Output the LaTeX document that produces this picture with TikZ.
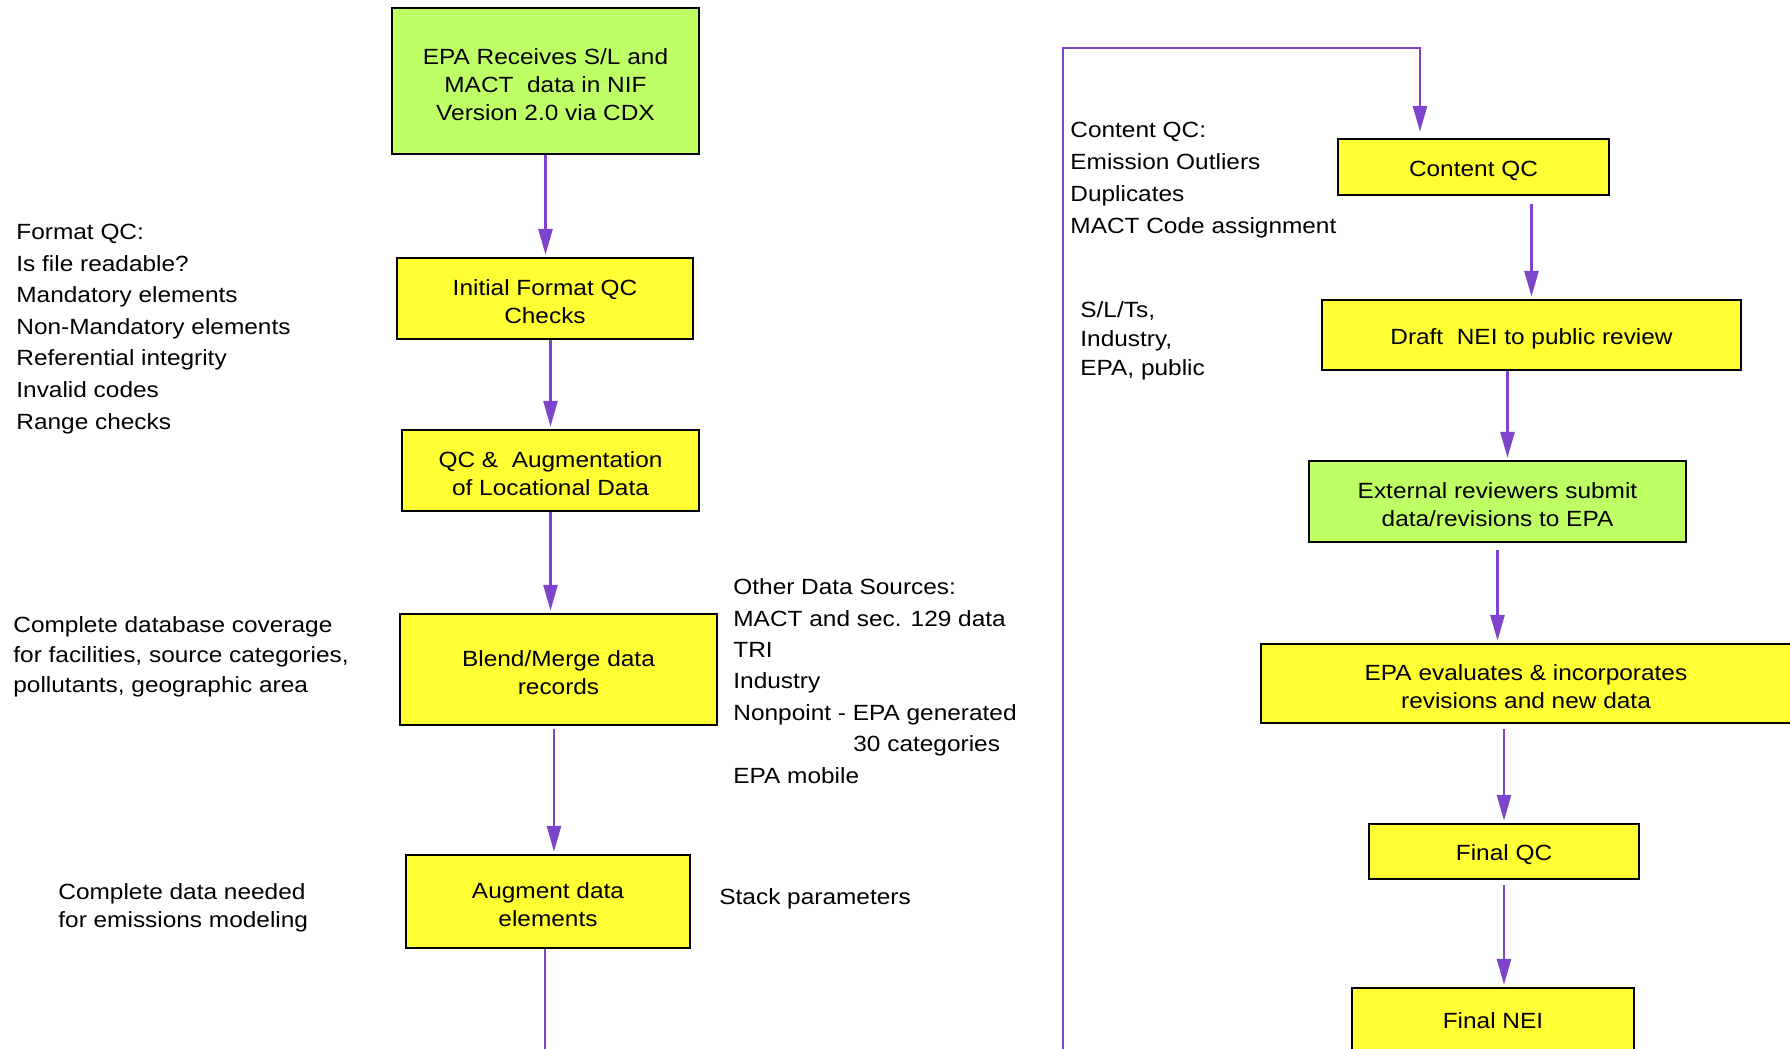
\documentclass[tikz,border=0pt]{standalone}
\usepackage{fontspec}
\setmainfont{Liberation Sans}[FakeStretch=1.11]
\usetikzlibrary{arrows.meta}
\definecolor{boxyellow}{RGB}{255,255,51}
\definecolor{boxgreen}{RGB}{190,255,102}
\definecolor{flowpurple}{RGB}{127,68,204}
\newcommand{\boxstrut}{\rule{0pt}{11.5pt}}

\begin{document}
\begin{tikzpicture}[x=0.5pt, y=-0.5pt,
  stepbox/.style={draw=black, line width=1.2pt, fill=boxyellow, align=center,
    inner sep=0pt, font=\fontsize{11}{14}\selectfont},
  greenbox/.style={stepbox, fill=boxgreen},
  note/.style={align=left, inner sep=0pt, anchor=base west},
  wire/.style={draw=flowpurple, line width=1.4pt},
  flow/.style={wire, -{Triangle[length=13pt,width=7pt]}, shorten >=1pt}]
\useasboundingbox (0,0) rectangle (1790,1049);
\clip (0,0) rectangle (1790,1049);
%left column boxes
\node[greenbox, minimum width=153.5pt, minimum height=73pt] (epa) at (545.5,81)
     {\boxstrut EPA Receives S/L and\\MACT\ \ data in NIF\\Version 2.0 via CDX};
\node[stepbox, minimum width=148pt, minimum height=40.5pt] (init) at (545,298.5)
     {\boxstrut Initial Format QC\\Checks};
\node[stepbox, minimum width=148.5pt, minimum height=40.5pt] (locqc) at (550.5,470.5)
     {\boxstrut QC \&\ \ Augmentation\\of Locational Data};
\node[stepbox, minimum width=158.5pt, minimum height=55.5pt] (blend) at (558.5,669.5)
     {\boxstrut Blend/Merge data\\records};
\node[stepbox, minimum width=142pt, minimum height=46.5pt] (augment) at (548,901.5)
     {\boxstrut Augment data\\elements};
%right column boxes
\node[stepbox, minimum width=135.5pt, minimum height=28pt] (contentqc) at (1473.5,167)
     {\boxstrut Content QC};
\node[stepbox, minimum width=209.5pt, minimum height=35pt] (draft) at (1531.5,335)
     {\boxstrut Draft\ \ NEI to public review};
\node[greenbox, minimum width=188.5pt, minimum height=40.5pt] (extrev) at (1497.5,501.5)
     {\boxstrut External reviewers submit\\data/revisions to EPA};
\node[stepbox, minimum width=265pt, minimum height=39.5pt] (evalrev) at (1526,683.5)
     {\boxstrut EPA evaluates \& incorporates\\revisions and new data};
\node[stepbox, minimum width=135pt, minimum height=27.5pt] (finalqc) at (1504,851.5)
     {\boxstrut Final QC};
\node[stepbox, minimum width=141pt, minimum height=33pt] (finalnei) at (1493,1021)
     {Final NEI};
%side notes (placed at baseline of last line)
\node[note, font=\fontsize{11}{15.8}\selectfont] (fmtnote) at (16,429)
     {Format QC:\\Is file readable?\\Mandatory elements\\Non-Mandatory elements\\Referential integrity\\Invalid codes\\Range checks};
\node[note, font=\fontsize{11}{15}\selectfont] (covernote) at (13,692)
     {Complete database coverage\\for facilities, source categories,\\pollutants, geographic area};
\node[note, font=\fontsize{11}{13.6}\selectfont] (modelnote) at (58,927)
     {Complete data needed\\for emissions modeling};
\node[note, font=\fontsize{11}{15.7}\selectfont] (srcnote) at (733,783)
     {Other Data Sources:\\MACT and sec. 129 data\\TRI\\Industry\\Nonpoint - EPA generated\\\hspace*{60pt}30 categories\\EPA mobile};
\node[note, font=\fontsize{11}{14}\selectfont] (stacknote) at (719,904)
     {Stack parameters};
\node[note, font=\fontsize{11}{16}\selectfont] (contnote) at (1070,233)
     {Content QC:\\Emission Outliers\\Duplicates\\MACT Code assignment};
\node[note, font=\fontsize{11}{14.3}\selectfont] (revnote) at (1080,375)
     {S/L/Ts,\\Industry,\\EPA, public};
%left flow
\draw[flow] (epa.south) -- (epa.south |- init.north);
\draw[flow] (init.south -| locqc.north) -- (locqc.north);
\draw[flow] (locqc.south) -- (locqc.south |- blend.north);
\draw[flow, shorten <=1.5pt] ([xshift=-2.25pt]blend.south) -- ([xshift=-2.25pt]blend.south |- augment.north);
\coordinate (augout) at (545,1060);
\draw[wire] (augment.south -| augout) -- (augout);
%loop up to content QC
\coordinate (loopin) at (1063,1060);
\draw[flow, shorten >=3pt] (loopin) -- (1063,48) -| ([xshift=-26.75pt]contentqc.north);
%right flow
\draw[flow, shorten <=4pt] (contentqc.south -| draft.north) -- (draft.north);
\draw[flow] ([xshift=5pt]extrev.north |- draft.south) -- ([xshift=5pt]extrev.north);
\draw[flow, shorten <=3.5pt] (extrev.south) -- (extrev.south |- evalrev.north);
\draw[flow, shorten <=2.5pt] (evalrev.south -| finalqc.north) -- (finalqc.north);
\draw[flow, shorten <=2.5pt] (finalqc.south) -- (finalqc.south |- finalnei.north);
\end{tikzpicture}
\end{document}
